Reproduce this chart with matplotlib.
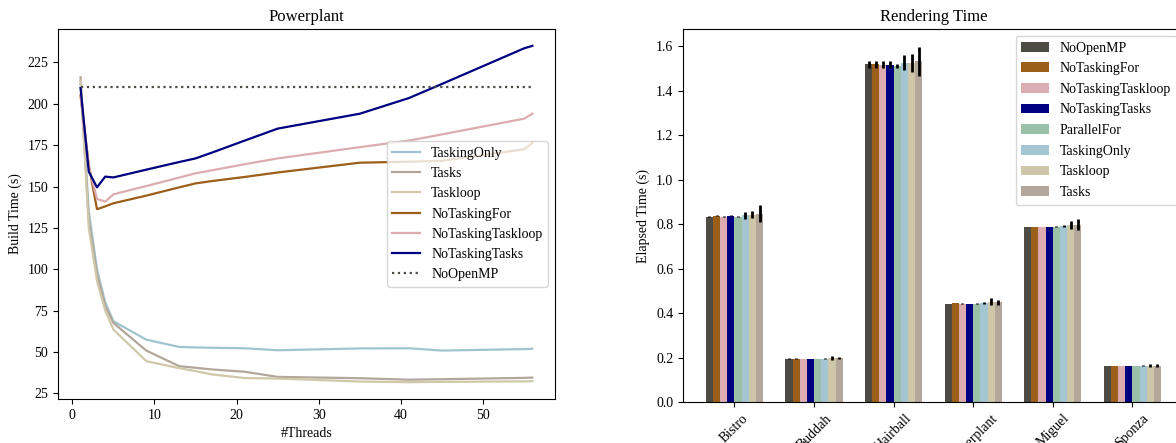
import numpy as np
import matplotlib
matplotlib.use("Agg")
import matplotlib.pyplot as plt

plt.rcParams['font.family'] = ['Liberation Serif', 'DejaVu Serif']
plt.rcParams['font.size'] = 10

# --- build time for the Powerplant scene ---
threads = [1, 2, 3, 4, 5, 9, 13, 15, 17, 21, 25, 35, 41, 45, 55, 56]

tasking_only = [212, 135, 100, 80, 68.6, 57.5, 53.1, 52.8, 52.6, 52.3, 51.1, 52.2, 52.3, 50.9, 51.8, 52.0]
tasks = [216, 130, 97, 78, 67.6, 50.9, 41.5, 40.5, 39.5, 38.1, 35.0, 34.2, 33.3, 33.6, 34.4, 34.6]
taskloop = [214, 125, 93, 75, 63.6, 44.5, 40.3, 38.5, 36.5, 34.3, 34.0, 32.2, 31.8, 32.0, 32.3, 32.4]
no_tasking_for = [205, 163, 136.3, 138, 139.9, 144.5, 149.5, 151.9, 153.3, 155.8, 158.5, 164.4, 165.0, 165.5, 172.5, 176.4]
no_tasking_taskloop = [205, 162, 142.5, 140.9, 145.3, 150.3, 155.4, 158.0, 159.8, 163.5, 167.0, 173.8, 177.8, 181.5, 191.0, 194.0]
no_tasking_tasks = [209.5, 159.0, 149.5, 156.0, 155.5, 160.2, 164.8, 167.0, 170.5, 177.8, 185.0, 194.0, 203.5, 212.0, 233.5, 235.0]
no_openmp = 210

# --- rendering time per scene ---
scenes = ['Bistro', 'Buddah', 'Hairball', 'Powerplant', 'Miguel', 'Sponza']
variants = ['NoOpenMP', 'NoTaskingFor', 'NoTaskingTaskloop', 'NoTaskingTasks',
            'ParallelFor', 'TaskingOnly', 'Taskloop', 'Tasks']
render_mean = [
    [0.835, 0.196, 1.519, 0.443, 0.789, 0.164],  # NoOpenMP
    [0.839, 0.196, 1.519, 0.447, 0.789, 0.164],  # NoTaskingFor
    [0.835, 0.195, 1.518, 0.444, 0.789, 0.164],  # NoTaskingTaskloop
    [0.839, 0.195, 1.518, 0.443, 0.789, 0.164],  # NoTaskingTasks
    [0.835, 0.195, 1.511, 0.444, 0.789, 0.164],  # ParallelFor
    [0.840, 0.196, 1.526, 0.447, 0.794, 0.164],  # TaskingOnly
    [0.843, 0.199, 1.526, 0.452, 0.797, 0.165],  # Taskloop
    [0.848, 0.199, 1.532, 0.449, 0.799, 0.165],  # Tasks
]
render_err = [
    [0.002, 0.001, 0.015, 0.001, 0.001, 0.001],
    [0.002, 0.001, 0.015, 0.001, 0.001, 0.001],
    [0.002, 0.001, 0.015, 0.001, 0.001, 0.001],
    [0.002, 0.001, 0.015, 0.001, 0.001, 0.001],
    [0.002, 0.001, 0.010, 0.001, 0.002, 0.001],
    [0.015, 0.002, 0.034, 0.003, 0.005, 0.002],
    [0.015, 0.008, 0.040, 0.016, 0.016, 0.005],
    [0.038, 0.003, 0.066, 0.010, 0.026, 0.005],
]

bar_colors = ['#4d4c44', '#9c5f1a', '#dcacb0', '#000080',
              '#9bc0a8', '#a4c6d2', '#cdc6a8', '#b3a69a']

fig = plt.figure(figsize=(11.76, 4.43), dpi=100)

# left: build time vs threads
ax1 = fig.add_axes([0.0493, 0.0993, 0.4226, 0.8352])
ax1.plot(threads, tasking_only, color='#9fc4d0', lw=1.6, label='TaskingOnly')
ax1.plot(threads, tasks, color='#b3a69a', lw=1.6, label='Tasks')
ax1.plot(threads, taskloop, color='#d0c8a8', lw=1.6, label='Taskloop')
ax1.plot(threads, no_tasking_for, color='#9c5f1a', lw=1.6, label='NoTaskingFor')
ax1.plot(threads, no_tasking_taskloop, color='#dcacb0', lw=1.6, label='NoTaskingTaskloop')
ax1.plot(threads, no_tasking_tasks, color='#000080', lw=1.6, label='NoTaskingTasks')
ax1.plot([threads[0], threads[-1]], [no_openmp, no_openmp], color='#4d4c44',
         ls=':', lw=1.6, label='NoOpenMP')
ax1.set_title('Powerplant', fontsize=12)
ax1.set_xlabel('#Threads')
ax1.set_ylabel('Build Time (s)')
ax1.set_yticks([25, 50, 75, 100, 125, 150, 175, 200, 225])
ax1.legend(loc='center right', labelspacing=0.52)

# right: grouped bars with error bars
ax2 = fig.add_axes([0.5808, 0.0919, 0.4258, 0.8426])
x = np.arange(len(scenes))
width = 0.09
for i, name in enumerate(variants):
    pos = x + (i - (len(variants) - 1) / 2) * width
    ax2.bar(pos, render_mean[i], width, yerr=render_err[i], color=bar_colors[i],
            label=name, error_kw=dict(ecolor='black', elinewidth=2, capsize=0))
ax2.set_xticks(x)
ax2.set_xticklabels(scenes, rotation=45)
ax2.set_title('Rendering Time', fontsize=12)
ax2.set_ylabel('Elapsed Time (s)')
ax2.legend(loc='upper right', labelspacing=0.55)

fig.savefig('out.png', dpi=100)
